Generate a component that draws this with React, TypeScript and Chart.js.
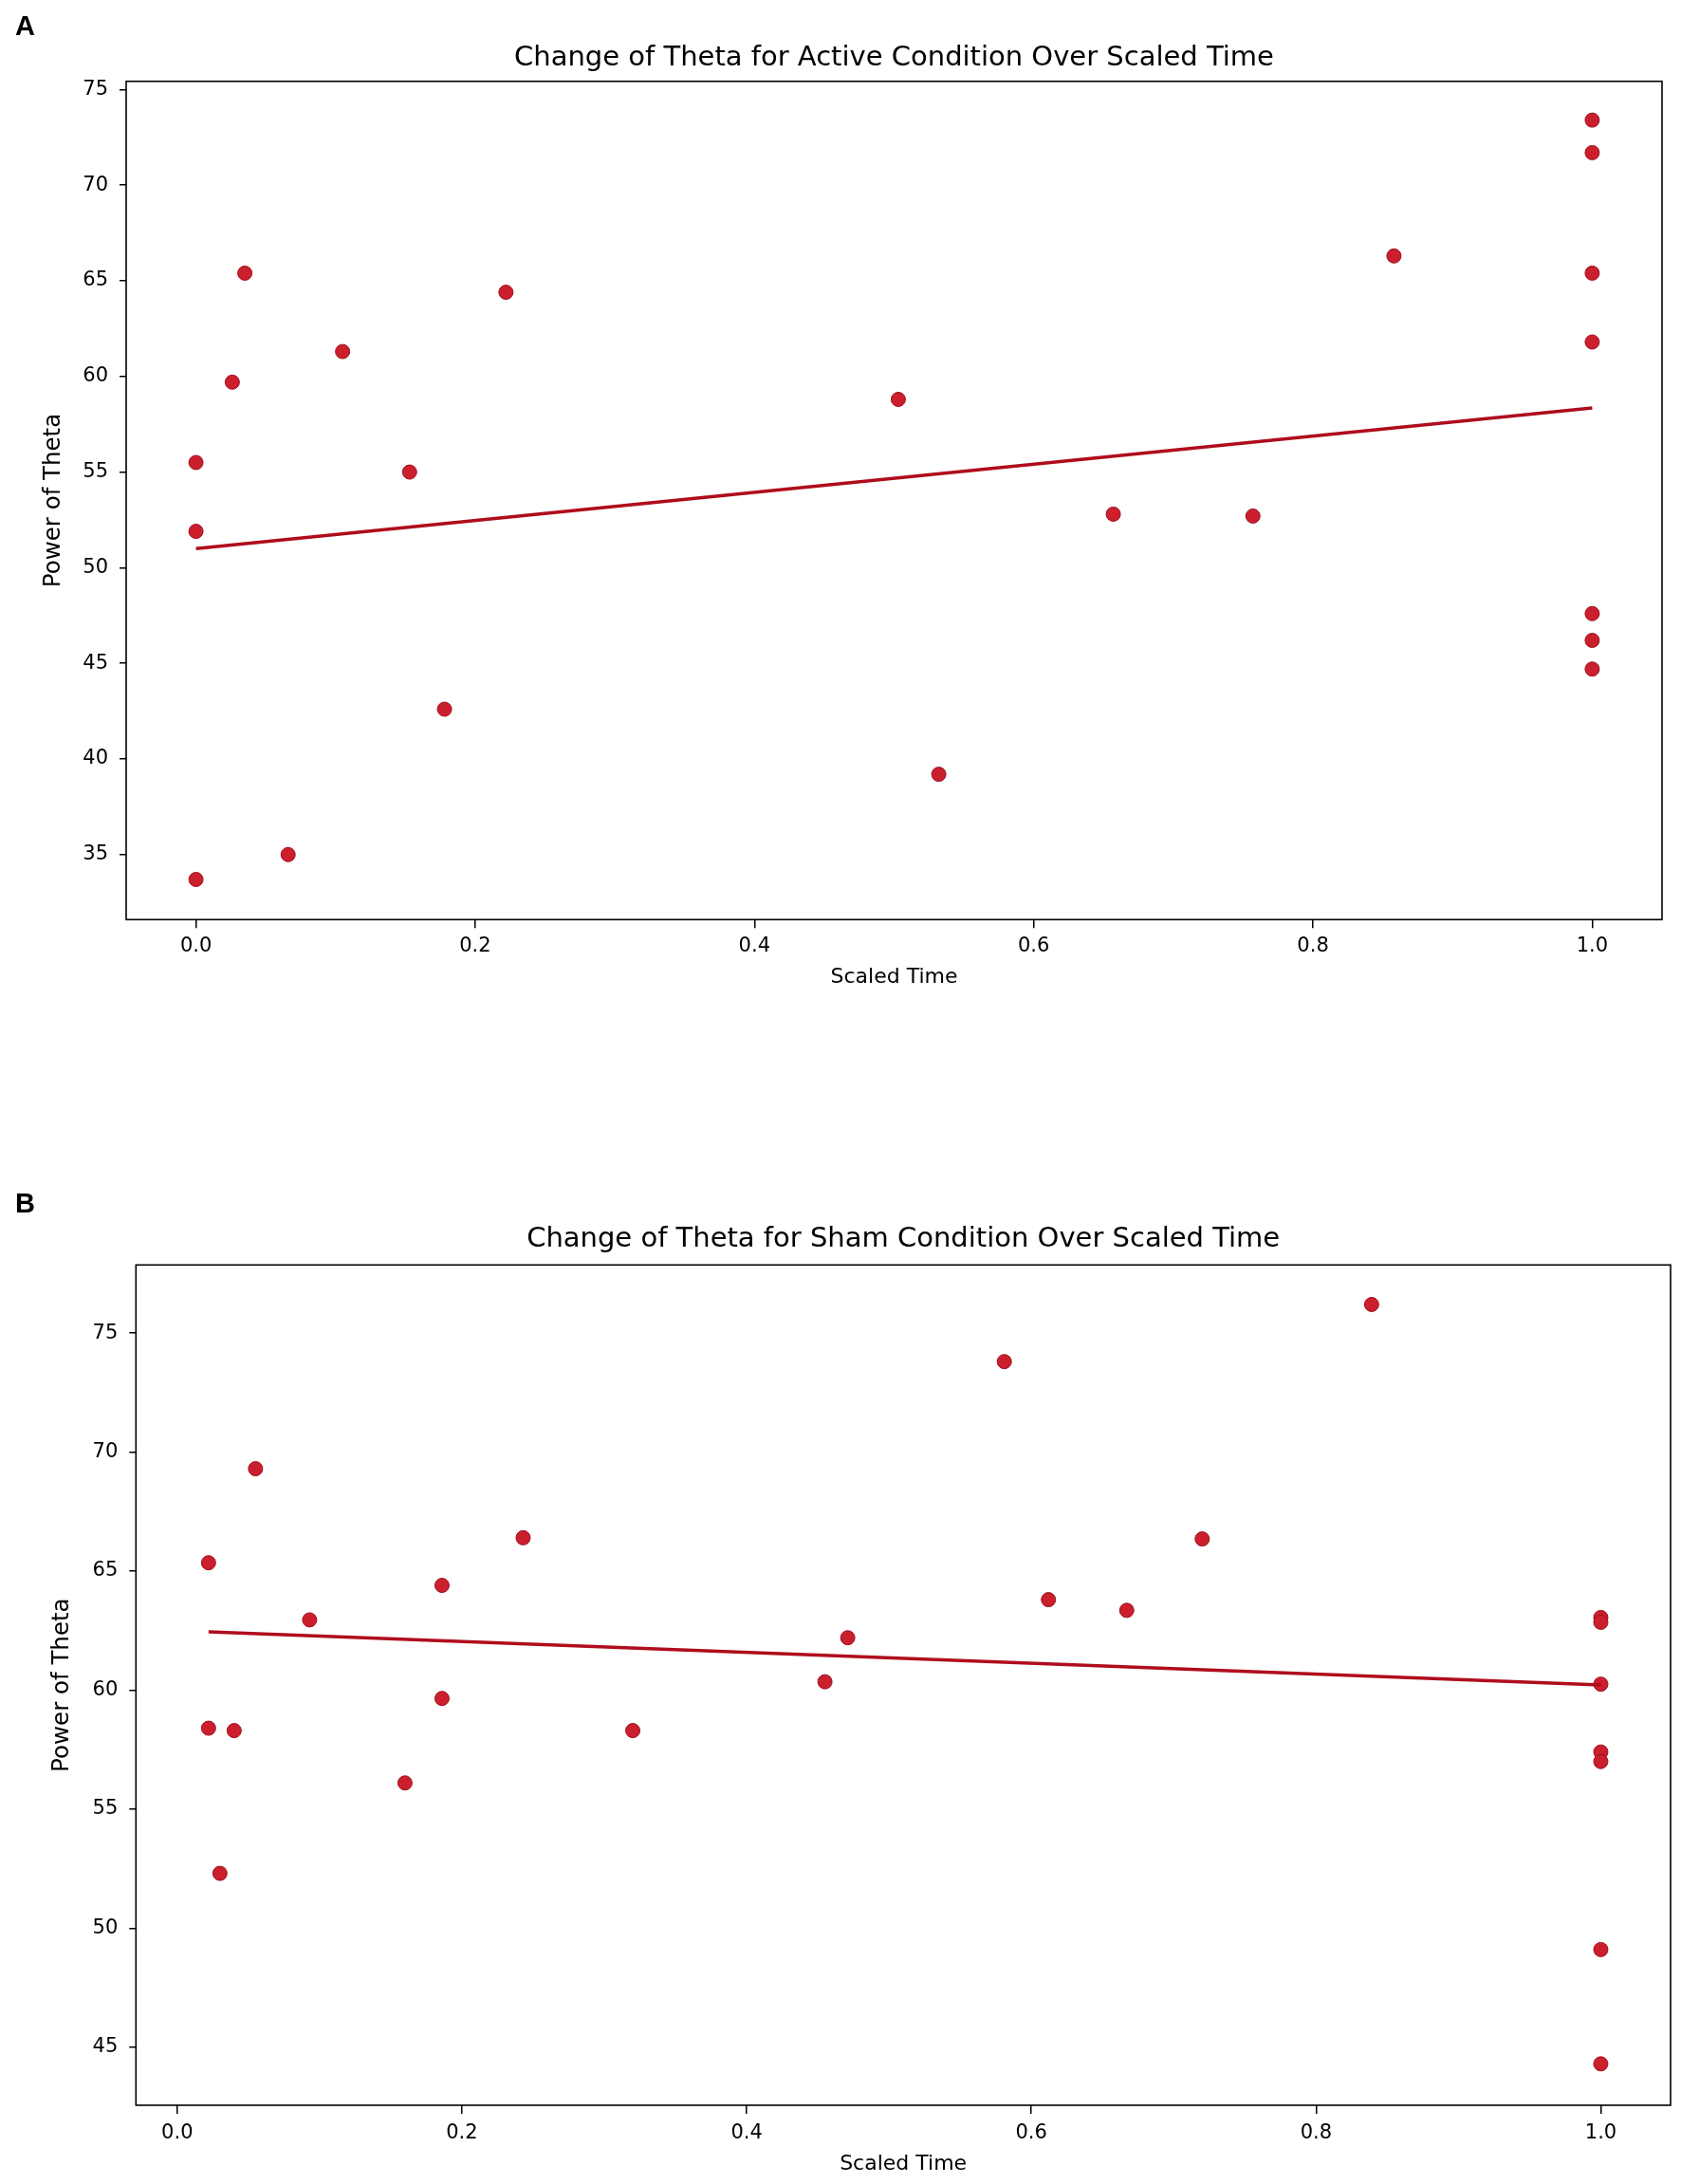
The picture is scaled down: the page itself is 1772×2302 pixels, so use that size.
import React, { useEffect, useRef } from 'react';
import { Chart, registerables } from 'chart.js';

Chart.register(...registerables);

// tick labels
const xTicks = [0, 0.2, 0.4, 0.6, 0.8, 1.0];
const activeYTicks = [35, 40, 45, 50, 55, 60, 65, 70, 75];
const shamYTicks = [45, 50, 55, 60, 65, 70, 75];

// panel A: active condition
const activeTime = [0, 0, 0, 0.026, 0.035, 0.066, 0.105, 0.153, 0.178, 0.222, 0.503, 0.532, 0.657, 0.757, 0.858, 1, 1, 1, 1, 1, 1, 1];
const activePower = [55.5, 51.9, 33.7, 59.7, 65.4, 35.0, 61.3, 55.0, 42.6, 64.4, 58.8, 39.2, 52.8, 52.7, 66.3, 73.4, 71.7, 65.4, 61.8, 47.6, 46.2, 44.7];
const activeFitTime = [0, 1];
const activeFitPower = [51.0, 58.35];

// panel B: sham condition
const shamTime = [0.022, 0.022, 0.030, 0.040, 0.055, 0.093, 0.160, 0.186, 0.186, 0.243, 0.320, 0.455, 0.471, 0.581, 0.612, 0.667, 0.720, 0.839, 1, 1, 1, 1, 1, 1, 1];
const shamPower = [65.35, 58.4, 52.3, 58.3, 69.3, 62.95, 56.1, 64.4, 59.65, 66.4, 58.3, 60.35, 62.2, 73.8, 63.8, 63.35, 66.35, 76.2, 63.05, 62.85, 60.25, 57.4, 57.0, 49.1, 44.3];
const shamFitTime = [0.022, 1];
const shamFitPower = [62.45, 60.22];

const FONT = 'DejaVu Sans';
const TICK_SIZE = 21;
const X_TITLE_SIZE = 22;
const Y_TITLE_SIZE = 24.5;
const TITLE_SIZE = 29;
const X_TICK_LEN = 9;
const Y_TICK_LEN = 7;

const framePlugin = {
  id: 'frame',
  afterDatasetsDraw(chart: any) {
    const { ctx, chartArea } = chart;
    ctx.save();
    ctx.strokeStyle = '#000';
    ctx.lineWidth = 1.6;
    ctx.strokeRect(chartArea.left, chartArea.top, chartArea.right - chartArea.left, chartArea.bottom - chartArea.top);
    ctx.restore();
  }
};

interface Area { left: number; top: number; right: number; bottom: number; }

interface PanelProps {
  title: string;
  xs: number[];
  ys: number[];
  fitX: number[];
  fitY: number[];
  yTicks: number[];
  xRange: [number, number];
  yRange: [number, number];
  width: number;
  height: number;
  area: Area;
  titleY: number;
  yTitleX: number;
  xLabelY: number;
  xTitleY: number;
}

const ScatterPanel: React.FC<PanelProps> = (p) => {
  const canvasRef = useRef<HTMLCanvasElement | null>(null);

  useEffect(() => {
    if (!canvasRef.current) return;
    const titleLH = TITLE_SIZE * 1.2;
    const tickLH = TICK_SIZE * 1.2;
    const titlePadTop = p.titleY - titleLH / 2;
    const titlePadBottom = p.area.top - titlePadTop - titleLH;

    const chart = new Chart(canvasRef.current, {
      type: 'scatter',
      data: {
        datasets: [
          {
            type: 'line',
            data: p.fitX.map((x, i) => ({ x, y: p.fitY[i] })),
            borderColor: '#b00c1c',
            borderWidth: 3.5,
            pointRadius: 0,
            fill: false
          } as any,
          {
            data: p.xs.map((x, i) => ({ x, y: p.ys[i] })),
            backgroundColor: '#cc1f2e',
            borderColor: '#9a0f1c',
            borderWidth: 1,
            pointRadius: 7.5
          }
        ]
      },
      options: {
        responsive: false,
        animation: false,
        layout: { padding: { left: 0, top: 0, bottom: 0, right: p.width - p.area.right } },
        plugins: {
          legend: { display: false },
          tooltip: { enabled: false },
          title: {
            display: true,
            fullSize: false,
            text: p.title,
            color: '#000',
            font: { family: FONT, size: TITLE_SIZE, weight: 'normal' },
            padding: { top: titlePadTop, bottom: titlePadBottom }
          }
        },
        scales: {
          x: {
            type: 'linear',
            min: p.xRange[0],
            max: p.xRange[1],
            afterBuildTicks: (scale: any) => {
              scale.ticks = xTicks.map((v) => ({ value: v }));
            },
            afterFit: (scale: any) => {
              scale.height = p.height - p.area.bottom;
            },
            ticks: {
              color: '#000',
              font: { family: FONT, size: TICK_SIZE },
              padding: p.xLabelY - p.area.bottom - X_TICK_LEN - tickLH / 2,
              maxRotation: 0,
              callback: (v: any) => Number(v).toFixed(1)
            },
            grid: { drawOnChartArea: false, drawTicks: true, tickLength: X_TICK_LEN, color: '#000', lineWidth: 1.5 },
            border: { display: false },
            title: {
              display: true,
              text: 'Scaled Time',
              color: '#000',
              font: { family: FONT, size: X_TITLE_SIZE },
              padding: { top: 0, bottom: p.height - p.xTitleY - (X_TITLE_SIZE * 1.2) / 2 }
            }
          },
          y: {
            type: 'linear',
            min: p.yRange[0],
            max: p.yRange[1],
            afterBuildTicks: (scale: any) => {
              scale.ticks = p.yTicks.map((v) => ({ value: v }));
            },
            afterFit: (scale: any) => {
              scale.width = p.area.left;
            },
            ticks: {
              color: '#000',
              font: { family: FONT, size: TICK_SIZE },
              padding: 12,
              callback: (v: any) => String(v)
            },
            grid: { drawOnChartArea: false, drawTicks: true, tickLength: Y_TICK_LEN, color: '#000', lineWidth: 1.5 },
            border: { display: false },
            title: {
              display: true,
              text: 'Power of Theta',
              color: '#000',
              font: { family: FONT, size: Y_TITLE_SIZE },
              padding: { top: p.yTitleX - (Y_TITLE_SIZE * 1.2) / 2, bottom: 0 }
            }
          }
        }
      },
      plugins: [framePlugin]
    });

    return () => {
      chart.destroy();
    };
  }, [p]);

  return <canvas ref={canvasRef} width={p.width} height={p.height} style={{ display: 'block' }} />;
};

const panelLetter: React.CSSProperties = {
  position: 'absolute',
  left: 16,
  fontFamily: '"Liberation Sans", Arial, sans-serif',
  fontWeight: 'bold',
  fontSize: 29,
  lineHeight: '29px',
  color: '#000'
};

const activeProps: PanelProps = {
  title: 'Change of Theta for Active Condition Over Scaled Time',
  xs: activeTime,
  ys: activePower,
  fitX: activeFitTime,
  fitY: activeFitPower,
  yTicks: activeYTicks,
  xRange: [-0.05, 1.05],
  yRange: [31.6, 75.43],
  width: 1772,
  height: 1100,
  area: { left: 133, top: 85.7, right: 1752, bottom: 969.3 },
  titleY: 61.6,
  yTitleX: 57,
  xLabelY: 997.7,
  xTitleY: 1030
};

const shamProps: PanelProps = {
  title: 'Change of Theta for Sham Condition Over Scaled Time',
  xs: shamTime,
  ys: shamPower,
  fitX: shamFitTime,
  fitY: shamFitPower,
  yTicks: shamYTicks,
  xRange: [-0.029, 1.049],
  yRange: [42.56, 77.86],
  width: 1772,
  height: 1102,
  area: { left: 143.3, top: 133.3, right: 1761, bottom: 1019 },
  titleY: 106,
  yTitleX: 66,
  xLabelY: 1048.3,
  xTitleY: 1081
};

const App: React.FC = () => {
  return (
    <div style={{ position: 'absolute', left: 0, top: 0, width: 1772, height: 2302, background: '#fff', overflow: 'hidden' }}>
      <div style={{ position: 'absolute', left: 0, top: 0 }}>
        <ScatterPanel {...activeProps} />
      </div>
      <div style={{ position: 'absolute', left: 0, top: 1200 }}>
        <ScatterPanel {...shamProps} />
      </div>
      <div style={{ ...panelLetter, top: 13 }}>A</div>
      <div style={{ ...panelLetter, top: 1254 }}>B</div>
    </div>
  );
};

export default App;
